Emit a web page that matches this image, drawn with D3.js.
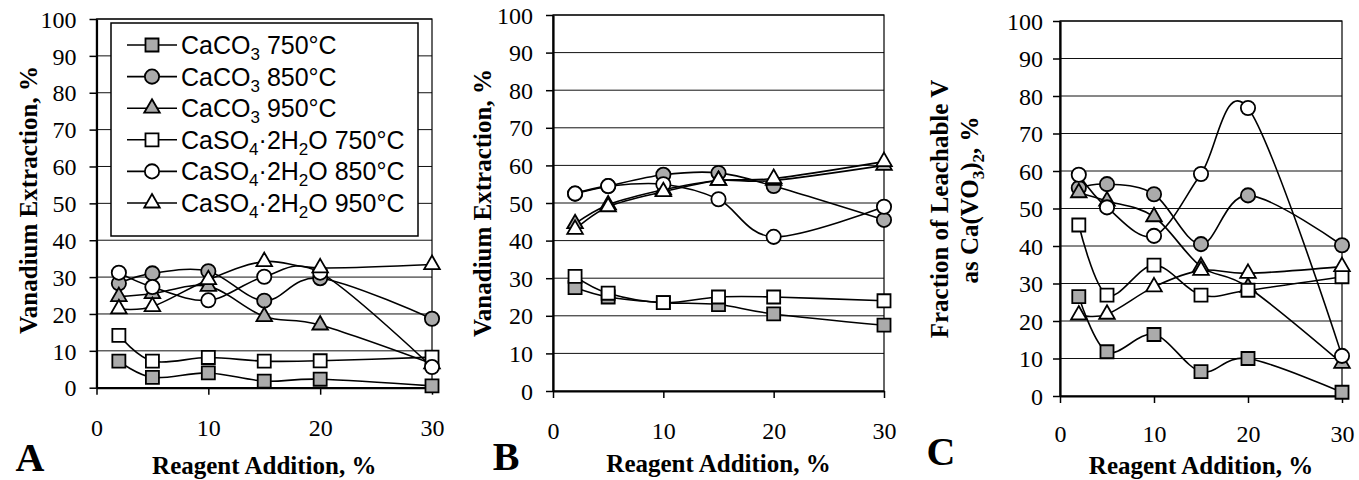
<!DOCTYPE html>
<html>
<head>
<meta charset="utf-8">
<script src="https://cdn.jsdelivr.net/npm/d3@7"></script>
<style>
  body { margin: 0; background: #fff; }
  svg { display: block; }
</style>
</head>
<body>
<svg id="chart" width="1359" height="480"></svg>
<script>
// ---- data ----
const reagentAddition = [2, 5, 10, 15, 20, 30];
const xTickValues = [0, 10, 20, 30];
const yTickValues = [0, 10, 20, 30, 40, 50, 60, 70, 80, 90, 100];

// A: vanadium extraction, %
const extA_CaCO3_750 = [7.2, 2.8, 4.0, 1.8, 2.3, 0.5];
const extA_CaCO3_850 = [28.3, 31.0, 31.6, 23.6, 29.7, 18.7];
const extA_CaCO3_950 = [24.7, 25.5, 27.5, 19.3, 17.0, 6.5];
const extA_CaSO4_750 = [14.2, 7.2, 8.2, 7.2, 7.3, 8.3];
const extA_CaSO4_850 = [31.2, 27.3, 23.7, 30.1, 31.2, 5.6];
const extA_CaSO4_950 = [21.4, 22.0, 29.3, 34.2, 32.5, 33.4];

// B: vanadium extraction, %
const extB_CaCO3_750 = [27.5, 25.0, 23.5, 23.0, 20.5, 17.5];
const extB_CaCO3_850 = [52.5, 54.5, 57.5, 58.0, 54.5, 45.5];
const extB_CaCO3_950 = [44.5, 49.5, 53.5, 56.0, 56.0, 60.0];
const extB_CaSO4_750 = [30.5, 26.0, 23.5, 25.0, 25.0, 24.0];
const extB_CaSO4_850 = [52.5, 54.5, 55.0, 51.0, 41.0, 49.0];
const extB_CaSO4_950 = [43.0, 49.0, 53.0, 56.0, 56.5, 61.0];

// C: fraction of leachable V as Ca(VO3)2, %
const fracC_CaCO3_750 = [26.5, 11.8, 16.4, 6.5, 10.0, 1.0];
const fracC_CaCO3_850 = [55.5, 56.5, 53.8, 40.5, 53.5, 40.2];
const fracC_CaCO3_950 = [54.2, 52.0, 47.8, 34.5, 29.0, 8.7];
const fracC_CaSO4_750 = [45.6, 26.9, 34.9, 26.9, 28.2, 31.8];
const fracC_CaSO4_850 = [59.0, 50.3, 42.7, 59.2, 76.8, 10.7];
const fracC_CaSO4_950 = [21.6, 21.8, 29.1, 33.5, 32.7, 34.5];

// legend labels, split into normal / subscript runs
const seriesLabels = [
  [["CaCO"], ["3", 1], [" 750°C"]],
  [["CaCO"], ["3", 1], [" 850°C"]],
  [["CaCO"], ["3", 1], [" 950°C"]],
  [["CaSO"], ["4", 1], ["·2H"], ["2", 1], ["O 750°C"]],
  [["CaSO"], ["4", 1], ["·2H"], ["2", 1], ["O 850°C"]],
  [["CaSO"], ["4", 1], ["·2H"], ["2", 1], ["O 950°C"]]
];
const seriesShapes = ["square", "circle", "triangle", "square", "circle", "triangle"];
const seriesFilled = [true, true, true, false, false, false];

const panelLetters = ["A", "B", "C"];
const xTitle = "Reagent Addition, %";
const yTitleExtraction = [["Vanadium Extraction, %"]];
const yTitleFractionLine1 = [["Fraction of Leachable V"]];
const yTitleFractionLine2 = [["as Ca(VO"], ["3", 1], [")"], ["2", 1], [", %"]];

// ---- drawing ----
const svg = d3.select("#chart");
const serif = "'Liberation Serif','Times New Roman',Times,serif";
const sans = "'Liberation Sans',Arial,Helvetica,sans-serif";
const grayFill = "#ababab";

const symbolTypes = {
  square: { type: d3.symbolSquare, size: 170 },
  circle: { type: d3.symbolCircle, size: 160 },
  triangle: { type: d3.symbolTriangle, size: 105 }
};

function richText(sel, parts, subSize, subDrop) {
  parts.forEach(([t, sub], i) => {
    const ts = sel.append("tspan").text(t);
    if (sub) {
      ts.style("font-size", subSize + "px").attr("dy", subDrop);
    } else if (i > 0 && parts[i - 1][1]) {
      ts.attr("dy", -subDrop);
    }
  });
}

function drawMarker(g, shape, filled, cx, cy) {
  const s = symbolTypes[shape];
  g.append("path")
    .attr("d", d3.symbol().type(s.type).size(s.size)())
    .attr("transform", `translate(${cx},${cy})`)
    .attr("fill", filled ? grayFill : "#fff")
    .attr("stroke", "#000")
    .attr("stroke-width", 1.8);
}

function drawPanel(cfg) {
  const x = d3.scaleLinear().domain([0, 30]).range(cfg.xRange);
  const y = d3.scaleLinear().domain([0, 100]).range(cfg.yRange);
  const g = svg.append("g");

  // horizontal gridlines
  g.append("g").selectAll("line")
    .data(yTickValues.filter(v => v > 0))
    .join("line")
    .attr("x1", x(0)).attr("x2", x(30))
    .attr("y1", d => y(d)).attr("y2", d => y(d))
    .attr("stroke", "#111").attr("stroke-width", 1);

  // plot-area frame
  g.append("rect")
    .attr("x", x(0)).attr("y", y(100))
    .attr("width", x(30) - x(0)).attr("height", y(0) - y(100))
    .attr("fill", "none").attr("stroke", "#000").attr("stroke-width", 1.2);

  // axes
  const yAxis = g.append("g")
    .attr("transform", `translate(${x(0)},0)`)
    .call(d3.axisLeft(y).tickValues(yTickValues).tickSize(7).tickSizeOuter(0).tickPadding(cfg.yPad));
  const xAxis = g.append("g")
    .attr("transform", `translate(0,${y(0)})`)
    .call(d3.axisBottom(x).tickValues(xTickValues).tickSize(7).tickSizeOuter(0).tickPadding(cfg.xPad));
  [yAxis, xAxis].forEach(a => {
    a.attr("font-family", null).attr("font-size", null);
    a.select(".domain").attr("stroke", "#000").attr("stroke-width", 2.2);
    a.selectAll(".tick line").attr("stroke", "#000").attr("stroke-width", 1.5);
    a.selectAll(".tick text").attr("fill", "#000")
      .style("font-family", serif).style("font-size", "24px");
  });
  yAxis.selectAll(".tick text").attr("dy", "0.34em");

  // series: smoothed lines, then markers
  const line = d3.line()
    .x((d, i) => x(reagentAddition[i]))
    .y(d => y(d))
    .curve(d3.curveCatmullRom.alpha(0));

  cfg.series.forEach(vals => {
    g.append("path").attr("d", line(vals))
      .attr("fill", "none").attr("stroke", "#000").attr("stroke-width", 1.6);
  });
  cfg.series.forEach((vals, si) => {
    vals.forEach((v, i) => drawMarker(g, seriesShapes[si], seriesFilled[si], x(reagentAddition[i]), y(v)));
  });

  // titles
  g.append("text")
    .attr("x", (x(0) + x(30)) / 2).attr("y", cfg.xTitleY)
    .attr("text-anchor", "middle")
    .style("font-family", serif).style("font-weight", "bold").style("font-size", "25px")
    .text(xTitle);

  cfg.yTitles.forEach(t => {
    const tx = g.append("text")
      .attr("transform", `translate(${t.x},${t.y}) rotate(-90)`)
      .attr("text-anchor", "middle")
      .style("font-family", serif).style("font-weight", "bold").style("font-size", "25px");
    richText(tx, t.parts, 17, 6);
  });

  g.append("text")
    .attr("x", cfg.letter.x).attr("y", cfg.letter.y)
    .attr("text-anchor", "middle")
    .style("font-family", serif).style("font-weight", "bold").style("font-size", "40px")
    .text(cfg.letter.text);

  return { x, y, g };
}

const panels = [
  {
    xRange: [96.5, 432], yRange: [387.7, 19], yPad: 13, xPad: 24,
    series: [extA_CaCO3_750, extA_CaCO3_850, extA_CaCO3_950, extA_CaSO4_750, extA_CaSO4_850, extA_CaSO4_950],
    xTitleY: 474,
    yTitles: [{ x: 37, y: 200, parts: yTitleExtraction }],
    letter: { x: 30, y: 471, text: panelLetters[0] }
  },
  {
    xRange: [553, 884], yRange: [391, 15], yPad: 13, xPad: 24,
    series: [extB_CaCO3_750, extB_CaCO3_850, extB_CaCO3_950, extB_CaSO4_750, extB_CaSO4_850, extB_CaSO4_950],
    xTitleY: 472,
    yTitles: [{ x: 491, y: 203, parts: yTitleExtraction }],
    letter: { x: 506, y: 470, text: panelLetters[1] }
  },
  {
    xRange: [1060, 1342], yRange: [396, 21], yPad: 10, xPad: 22,
    series: [fracC_CaCO3_750, fracC_CaCO3_850, fracC_CaCO3_950, fracC_CaSO4_750, fracC_CaSO4_850, fracC_CaSO4_950],
    xTitleY: 474,
    yTitles: [
      { x: 948, y: 209, parts: yTitleFractionLine1 },
      { x: 978, y: 200, parts: yTitleFractionLine2 }
    ],
    letter: { x: 941, y: 465, text: panelLetters[2] }
  }
];

const drawn = panels.map(drawPanel);

// legend inside panel A
(function legend() {
  const g = drawn[0].g.append("g");
  const box = { x: 111, y: 23, w: 307, h: 213 };
  g.append("rect")
    .attr("x", box.x).attr("y", box.y).attr("width", box.w).attr("height", box.h)
    .attr("fill", "#fff").attr("stroke", "#000").attr("stroke-width", 1.5);
  const row = d3.scaleLinear().domain([0, 5]).range([45, 203]);
  seriesLabels.forEach((parts, i) => {
    const cy = row(i);
    g.append("line").attr("x1", 127).attr("x2", 177).attr("y1", cy).attr("y2", cy)
      .attr("stroke", "#000").attr("stroke-width", 1.6);
    drawMarker(g, seriesShapes[i], seriesFilled[i], 152, cy);
    const t = g.append("text")
      .attr("x", 181).attr("y", cy + 9)
      .attr("fill", "#000")
      .style("font-family", sans).style("font-size", "25px");
    richText(t, parts, 17, 6);
  });
})();
</script>
</body>
</html>
